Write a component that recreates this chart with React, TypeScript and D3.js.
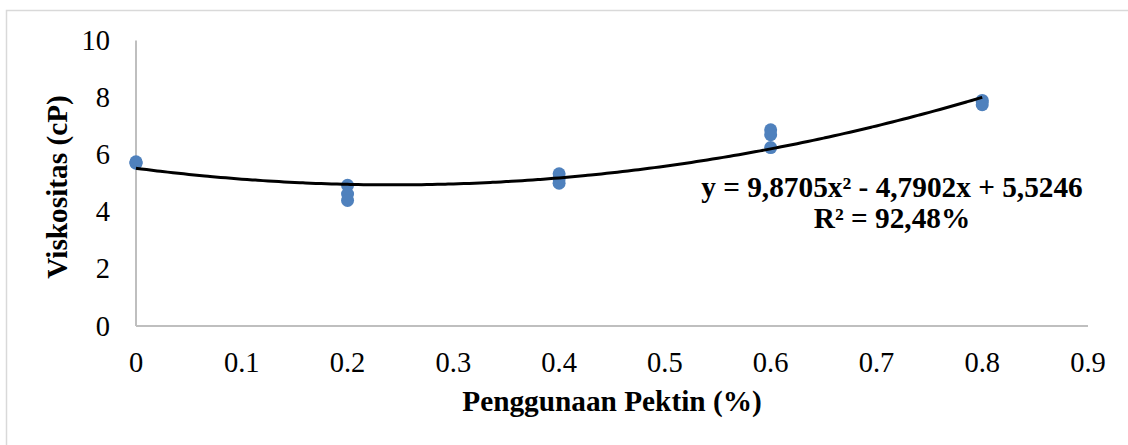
import React from "react";
import * as d3 from "d3";

const pektin = [0, 0, 0, 0.2, 0.2, 0.2, 0.4, 0.4, 0.4, 0.6, 0.6, 0.6, 0.8, 0.8, 0.8];
const viskositas = [5.72, 5.75, 5.7, 4.93, 4.62, 4.4, 5.33, 5.15, 5.0, 6.87, 6.7, 6.25, 7.9, 7.85, 7.75];
const xTicks = [0, 0.1, 0.2, 0.3, 0.4, 0.5, 0.6, 0.7, 0.8, 0.9];
const yTicks = [0, 2, 4, 6, 8, 10];
const coef = [9.8705, -4.7902, 5.5246];
const equationText = "y = 9,8705x² - 4,7902x + 5,5246";
const r2Text = "R² = 92,48%";
const xTitle = "Penggunaan Pektin (%)";
const yTitle = "Viskositas (cP)";

export default function App() {
  const W = 1128, H = 445;
  const x = d3.scaleLinear().domain([0, 0.9]).range([136, 1088]);
  const y = d3.scaleLinear().domain([0, 10]).range([326, 40.5]);
  const trendX = d3.range(0, 0.8001, 0.005);
  const line = d3.line<number>()
    .x((d) => x(d))
    .y((d) => y(coef[0] * d * d + coef[1] * d + coef[2]))
    .curve(d3.curveMonotoneX);
  const font = "'Liberation Serif', 'Times New Roman', serif";
  return (
    <svg width={W} height={H} style={{ position: "absolute", left: 0, top: 0 }} fontFamily={font}>
      <rect x={0} y={0} width={W} height={H} fill="#fff" />
      <rect x={6.5} y={10.5} width={W + 10} height={H + 10} fill="none" stroke="#d9d9d9" strokeWidth={1.5} />
      <line x1={x(0)} x2={x(0)} y1={y(10)} y2={y(0)} stroke="#bfbfbf" strokeWidth={2} />
      <line x1={x(0)} x2={x(0.9)} y1={y(0)} y2={y(0)} stroke="#bfbfbf" strokeWidth={2} />
      {yTicks.map((t) => (
        <text key={t} x={110} y={y(t) + 9.5} textAnchor="end" fontSize={28.5} fill="#000">{t}</text>
      ))}
      {xTicks.map((t) => (
        <text key={t} x={x(t)} y={372} textAnchor="middle" fontSize={28.5} fill="#000">{String(t)}</text>
      ))}
      {pektin.map((p, i) => (
        <circle key={i} cx={x(p)} cy={y(viskositas[i])} r={6.5} fill="#4f81bd" />
      ))}
      <path d={line(trendX) || ""} fill="none" stroke="#000" strokeWidth={3} />
      <text x={892} y={197} textAnchor="middle" fontSize={29.3} fontWeight="bold">{equationText}</text>
      <text x={892} y={228} textAnchor="middle" fontSize={29.3} fontWeight="bold">{r2Text}</text>
      <text x={612} y={411} textAnchor="middle" fontSize={29.3} fontWeight="bold">{xTitle}</text>
      <text transform={`translate(67,187) rotate(-90)`} textAnchor="middle" fontSize={29.3} fontWeight="bold">{yTitle}</text>
    </svg>
  );
}
